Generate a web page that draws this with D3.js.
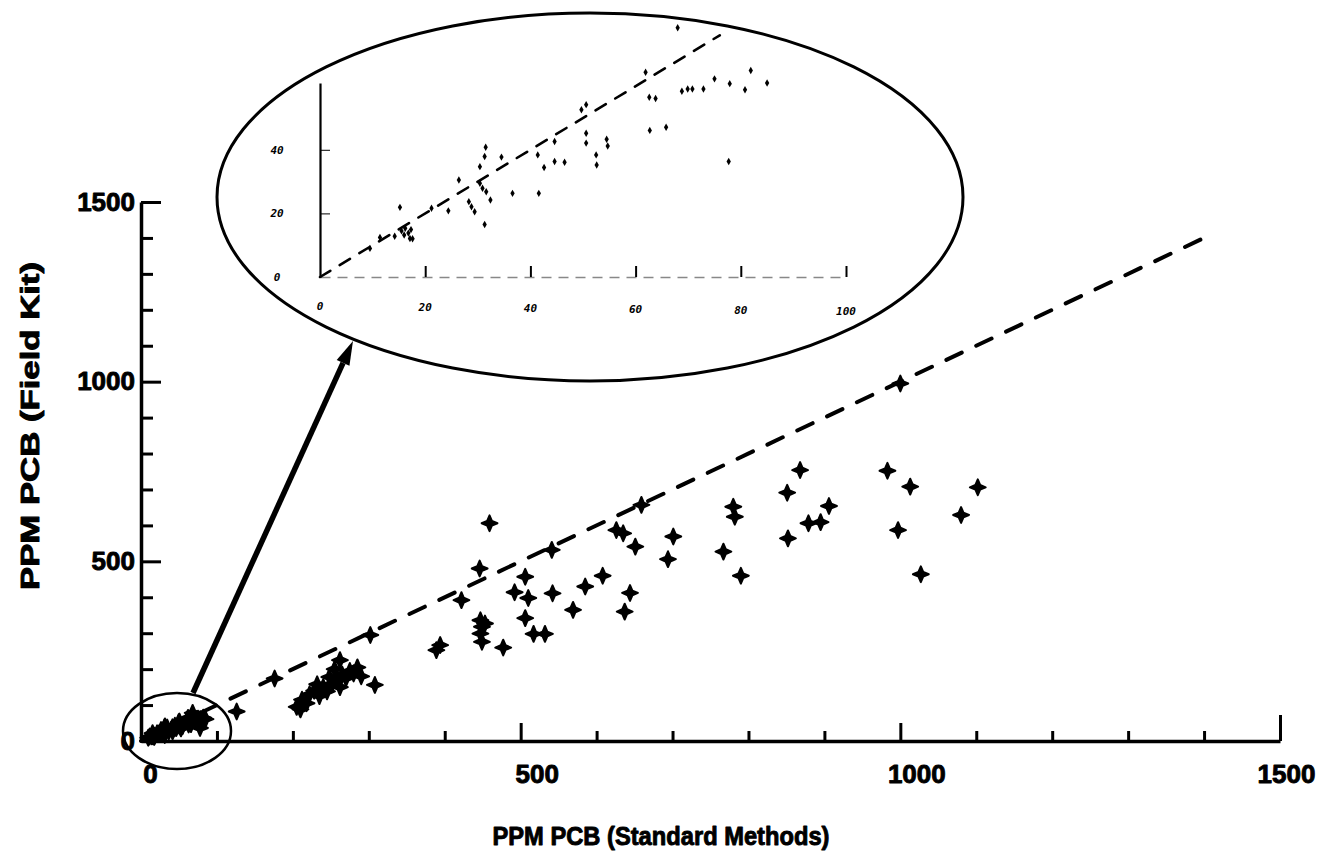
<!DOCTYPE html>
<html>
<head>
<meta charset="utf-8">
<script src="https://cdn.jsdelivr.net/npm/d3@7"></script>
<style>
  body { margin: 0; background: #fff; }
  svg { display: block; }
</style>
</head>
<body>
<div id="chart"></div>
<script>
// PPM PCB, standard methods (x) vs field kit (y)
const standard = [
  // low range, also shown in the inset
  9.5, 11.4, 14.2, 15.2, 15.5, 16.2, 16.8, 17.3, 16.0, 17.6, 17.1,
  21.2, 24.4, 26.4, 28.3, 28.8, 29.4, 30.4, 30.9, 31.6, 31.3, 32.4,
  30.4, 31.3, 31.5, 34.5, 36.6, 41.6, 41.4, 42.6, 44.6, 44.6, 46.5,
  49.7, 50.6, 50.6, 50.6, 52.5, 52.6, 54.5, 54.7,
  61.9, 62.6, 63.8, 62.7, 65.8, 68.0, 68.8, 69.9, 70.8, 72.9, 75.0,
  77.9, 80.8, 81.9, 85.0, 77.7,
  // main range
  126, 176,
  205, 210, 212, 218, 222, 228, 235, 240, 245, 252, 258, 262, 265, 270,
  275, 280, 285, 262, 290, 255, 232, 248,
  308, 302, 389, 394, 447, 449, 447, 449, 453, 477, 422, 446, 459,
  492, 510, 506, 506, 517, 532, 541, 542, 569, 585, 608, 644, 637,
  626, 635, 651, 659, 701, 694,
  780, 782, 767, 790, 868, 851, 852, 879, 895, 906,
  983, 1000, 1013, 1102, 1080, 997, 1027
];
const fieldKit = [
  9.0, 12.4, 12.8, 21.9, 14.5, 15.3, 13.8, 14.9, 13.2, 12.0, 12.1,
  21.6, 20.8, 30.5, 23.7, 22.1, 20.5, 29.5, 27.9, 26.8, 16.5, 24.2,
  34.7, 37.9, 40.8, 37.7, 26.3, 26.3, 38.4, 34.4, 36.3, 42.6, 36.1,
  52.6, 54.2, 45.2, 42.1, 38.4, 35.2, 43.3, 41.2,
  64.4, 56.5, 56.1, 46.1, 47.1, 78.4, 58.4, 59.1, 59.1, 59.1, 62.3,
  60.8, 58.9, 64.9, 61.0, 36.3,
  82, 174,
  95, 88, 115, 105, 130, 140, 125, 150, 138, 160, 170, 150, 185, 175,
  195, 188, 205, 225, 180, 200, 158, 178,
  156, 295, 253, 267, 336, 318, 299, 276, 327, 260, 392, 480, 606,
  414, 398, 457, 342, 298, 298, 532, 411, 365, 430, 460, 412, 360,
  587, 578, 541, 657, 569, 506,
  652, 624, 527, 460, 754, 691, 564, 606, 609, 654,
  752, 995, 708, 706, 629, 587, 464
];

const xTicks = [0, 500, 1000, 1500];
const yTicks = [0, 500, 1000, 1500];
const minorTicks = d3.range(0, 1501, 100);
const insetXTicks = [0, 20, 40, 60, 80, 100];
const insetYTicks = [0, 20, 40];
const fitLine = [0, 1405];       // 1:1 reference line
const insetFitLine = [0, 76];

const width = 1318;
const height = 865;
const font = "'Liberation Sans', Arial, sans-serif";

const svg = d3.select("#chart")
  .append("svg")
  .attr("width", width)
  .attr("height", height);

svg.append("rect").attr("width", width).attr("height", height).attr("fill", "#fff");

const x = d3.scaleLinear().domain([0, 1500]).range([141, 1280]);
const y = d3.scaleLinear().domain([0, 1500]).range([741, 202]);

const points = standard.map((s, i) => ({ s: s, f: fieldKit[i] }));

// four-pointed "+" marker
const sparkle = {
  draw(ctx, size) {
    const r = Math.sqrt(size) / 2;
    const i = r * 0.3;
    ctx.moveTo(0, -r);
    ctx.lineTo(i, -i);
    ctx.lineTo(r, 0);
    ctx.lineTo(i, i);
    ctx.lineTo(0, r);
    ctx.lineTo(-i, i);
    ctx.lineTo(-r, 0);
    ctx.lineTo(-i, -i);
    ctx.closePath();
  }
};

// heavy text look of the original
const heavy = sel => sel
  .attr("font-family", font)
  .attr("font-weight", "bold")
  .attr("fill", "#000")
  .attr("stroke", "#000")
  .attr("stroke-width", 0.9)
  .attr("stroke-linejoin", "round");

// dashed 1:1 line
svg.append("line")
  .attr("x1", x(fitLine[0])).attr("y1", y(fitLine[0]))
  .attr("x2", x(fitLine[1])).attr("y2", y(fitLine[1]))
  .attr("stroke", "#000")
  .attr("stroke-width", 4)
  .attr("stroke-linecap", "round")
  .attr("stroke-dasharray", "17 16");

svg.append("g")
  .selectAll("path")
  .data(points)
  .join("path")
  .attr("transform", d => `translate(${x(d.s)},${y(d.f)})`)
  .attr("d", d3.symbol().type(sparkle).size(250))
  .attr("fill", "#000")
  .attr("stroke", "#000")
  .attr("stroke-width", 2)
  .attr("stroke-linejoin", "round");

// y axis: ticks point inward
svg.append("g")
  .attr("transform", `translate(${x(0)},0)`)
  .call(d3.axisRight(y).tickValues(minorTicks).tickSize(12).tickSizeOuter(0).tickFormat(""))
  .call(g => g.select(".domain").attr("stroke-width", 3.5))
  .call(g => g.selectAll(".tick line").attr("stroke-width", 3)
    .attr("x2", d => d % 500 === 0 ? 20 : 12));

svg.append("g")
  .attr("transform", `translate(${x(0)},0)`)
  .call(d3.axisLeft(y).tickValues(yTicks).tickSize(0).tickPadding(6).tickFormat(d3.format("d")))
  .call(g => g.select(".domain").remove())
  .call(g => g.selectAll("text").call(heavy).attr("font-size", 26));

// x axis: ticks point up
svg.append("g")
  .attr("transform", `translate(0,${y(0)})`)
  .call(d3.axisTop(x).tickValues(minorTicks.slice(1)).tickSize(10).tickSizeOuter(0).tickFormat(""))
  .call(g => g.select(".domain").attr("stroke-width", 3.5))
  .call(g => g.selectAll(".tick line").attr("stroke-width", 3)
    .attr("y2", d => d === 1500 ? -26 : d % 500 === 0 ? -18 : -10));

svg.append("g")
  .attr("transform", `translate(0,${y(0)})`)
  .call(d3.axisBottom(x).tickValues(xTicks).tickSize(0).tickPadding(24).tickFormat(d3.format("d")))
  .call(g => g.select(".domain").remove())
  .call(g => g.selectAll("text").call(heavy)
    .attr("dx", d => d === 1500 ? 6 : d === 0 ? 9 : 16)
    .attr("font-size", 26));

// axis titles
svg.append("text")
  .attr("x", 661).attr("y", 845)
  .attr("text-anchor", "middle")
  .call(heavy).attr("font-size", 25)
  .attr("textLength", 337).attr("lengthAdjust", "spacingAndGlyphs")
  .text("PPM PCB (Standard Methods)");

svg.append("text")
  .attr("transform", "translate(39,426) rotate(-90)")
  .attr("text-anchor", "middle")
  .call(heavy).attr("font-size", 25)
  .attr("textLength", 328).attr("lengthAdjust", "spacingAndGlyphs")
  .text("PPM PCB (Field Kit)");

// small ellipse around the origin, arrow, and big ellipse holding the inset
svg.append("ellipse")
  .attr("cx", 177).attr("cy", 731).attr("rx", 54).attr("ry", 38)
  .attr("fill", "none").attr("stroke", "#000").attr("stroke-width", 2.5);

const arrowFrom = [193, 693], arrowTo = [353, 341];
const ang = Math.atan2(arrowTo[1] - arrowFrom[1], arrowTo[0] - arrowFrom[0]);
const headLen = 24, headW = 7;
const base = [arrowTo[0] - headLen * Math.cos(ang), arrowTo[1] - headLen * Math.sin(ang)];
svg.append("line")
  .attr("x1", arrowFrom[0]).attr("y1", arrowFrom[1])
  .attr("x2", base[0]).attr("y2", base[1])
  .attr("stroke", "#000").attr("stroke-width", 5.5);
svg.append("path")
  .attr("d", d3.line()([
    arrowTo,
    [base[0] + headW * Math.sin(ang), base[1] - headW * Math.cos(ang)],
    [base[0] - headW * Math.sin(ang), base[1] + headW * Math.cos(ang)]
  ]) + "Z")
  .attr("fill", "#000");

svg.append("ellipse")
  .attr("cx", 590).attr("cy", 197).attr("rx", 373).attr("ry", 184)
  .attr("fill", "none").attr("stroke", "#000").attr("stroke-width", 3);

// inset: the 0-100 ppm range
const ix = d3.scaleLinear().domain([0, 100]).range([320, 846]);
const iy = d3.scaleLinear().domain([0, 61]).range([277, 83]);
const insetFont = "'DejaVu Sans Mono', 'Liberation Mono', monospace";

svg.append("g")
  .attr("transform", `translate(0,${iy(0)})`)
  .call(d3.axisTop(ix).tickValues(insetXTicks.slice(1)).tickSize(11).tickSizeOuter(0).tickFormat(""))
  .call(g => g.select(".domain").attr("stroke", "#888").attr("stroke-width", 1.5).attr("stroke-dasharray", "10 7"))
  .call(g => g.selectAll(".tick line").attr("stroke-width", 2));

svg.append("g")
  .attr("transform", `translate(${ix(0)},0)`)
  .call(d3.axisRight(iy).tickValues([20, 40]).tickSize(10).tickSizeOuter(0).tickFormat(""))
  .call(g => g.select(".domain").attr("stroke-width", 2.2))
  .call(g => g.selectAll(".tick line").attr("stroke-width", 1));

svg.append("g")
  .selectAll("text")
  .data(insetXTicks)
  .join("text")
  .attr("x", d => ix(d))
  .attr("y", d => iy(0) + 33 + d * 0.05)
  .attr("text-anchor", "middle")
  .attr("font-family", insetFont).attr("font-weight", "bold").attr("font-style", "italic")
  .attr("font-size", 11)
  .text(d => d);

svg.append("g")
  .selectAll("text")
  .data(insetYTicks)
  .join("text")
  .attr("x", ix(0) - 43)
  .attr("y", d => iy(d) + 4)
  .attr("text-anchor", "middle")
  .attr("font-family", insetFont).attr("font-weight", "bold").attr("font-style", "italic")
  .attr("font-size", 11)
  .text(d => d);

svg.append("line")
  .attr("x1", ix(insetFitLine[0])).attr("y1", iy(insetFitLine[0]))
  .attr("x2", ix(insetFitLine[1])).attr("y2", iy(insetFitLine[1]))
  .attr("stroke", "#000")
  .attr("stroke-width", 2.6)
  .attr("stroke-linecap", "round")
  .attr("stroke-dasharray", "12 11");

svg.append("g")
  .selectAll("path")
  .data(points.filter(d => d.s <= 100))
  .join("path")
  .attr("transform", d => `translate(${ix(d.s)},${iy(d.f)})`)
  .attr("d", d3.symbol().type(d3.symbolDiamond).size(16))
  .attr("fill", "#000");
</script>
</body>
</html>
